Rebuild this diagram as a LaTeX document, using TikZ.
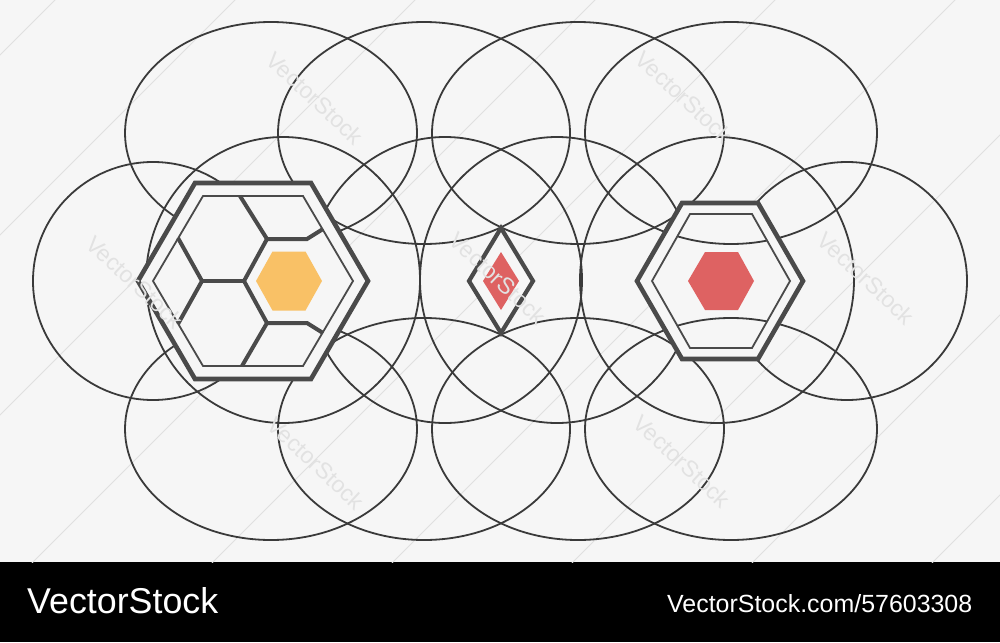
\documentclass[tikz,border=0pt]{standalone}
\usepackage{graphicx}
\usepackage{fontspec}
\setmainfont{Liberation Sans}
\definecolor{bgc}{RGB}{246,246,246}
\definecolor{lnc}{RGB}{58,58,58}
\definecolor{hxc}{RGB}{74,74,74}
\definecolor{orng}{RGB}{249,193,102}
\definecolor{redd}{RGB}{222,98,98}
\definecolor{wmc}{RGB}{224,224,224}
\definecolor{wmtc}{RGB}{226,226,226}
\begin{document}
\begin{tikzpicture}[x=1pt,y=-1pt,
  ell/.style={draw=lnc,line width=1.8pt},
  hexthick/.style={draw=hxc,line width=4.6pt,line join=miter},
  hexthin/.style={draw=hxc,line width=1.8pt,line join=miter},
  comb/.style={draw=hxc,line width=4pt,line join=miter},
  wmline/.style={draw=wmc,line width=0.9pt},
  wmtext/.style={font=\fontsize{23}{23}\selectfont,rotate=-43,inner sep=0pt,text=wmtc}]
\useasboundingbox (0,0) rectangle (1000,642);
% background and bottom bar
\fill[bgc] (0,0) rectangle (1000,562);
\fill[black] (0,562) rectangle (1000,642);
% faint diagonal watermark lines
\begin{scope}
\clip (0,0) rectangle (1000,562);
\foreach \c in {55,235,415,595,775,955,1135,1315,1495}{
  \draw[wmline] (\c-600,600) -- (\c+50,-50);
}
\end{scope}
% ellipses: top and bottom rows
\foreach \cx in {271,424,578,731}{
  \draw[ell] (\cx,133) ellipse [x radius=146, y radius=111];
  \draw[ell] (\cx,429) ellipse [x radius=146, y radius=111];
}
% middle row
\draw[ell] (153,281) ellipse [x radius=120, y radius=119];
\draw[ell] (847,281) ellipse [x radius=120, y radius=119];
\foreach \cx in {283,445,557,717}{
  \draw[ell] (\cx,280) ellipse [x radius=137, y radius=143];
}
% ---------- left hexagon ----------
\coordinate (LO1) at (138,281); \coordinate (LO2) at (195,183);
\coordinate (LO3) at (311,183); \coordinate (LO4) at (368,281);
\coordinate (LO5) at (311,379); \coordinate (LO6) at (195,379);
\fill[bgc] (LO1)--(LO2)--(LO3)--(LO4)--(LO5)--(LO6)--cycle;
\draw[hexthick] (LO1)--(LO2)--(LO3)--(LO4)--(LO5)--(LO6)--cycle;
\draw[hexthin] (153,281)--(203,196)--(303,196)--(353,281)--(303,366)--(203,366)--cycle;
\draw[comb] (240,196)--(267,239)--(307,239)--(323,229);
\draw[comb] (267,239)--(244,281)--(267,323)--(307,323)--(323,333);
\draw[comb] (244,281)--(202,281);
\draw[comb] (178,238)--(202,281)--(178,324);
\draw[comb] (267,323)--(242,366);
\fill[orng] (256,281)--(272.5,251.5)--(305.5,251.5)--(322,281)--(305.5,310.5)--(272.5,310.5)--cycle;
% ---------- diamond ----------
\fill[bgc] (501,228)--(533,281)--(501,333)--(469,281)--cycle;
\draw[hexthick,line width=4.2pt] (501,228)--(533,281)--(501,333)--(469,281)--cycle;
\fill[redd] (501,252)--(519,281)--(501,310)--(483,281)--cycle;
% ---------- right hexagon ----------
\fill[bgc] (637,281)--(682,203)--(758,203)--(803,281)--(758,359)--(682,359)--cycle;
\begin{scope}
\clip (652,281)--(690,214)--(752,214)--(790,281)--(752,348)--(690,348)--cycle;
\draw[ell] (731,133) ellipse [x radius=146, y radius=111];
\draw[ell] (731,429) ellipse [x radius=146, y radius=111];
\end{scope}
\draw[hexthick] (637,281)--(682,203)--(758,203)--(803,281)--(758,359)--(682,359)--cycle;
\draw[hexthin] (652,281)--(690,214)--(752,214)--(790,281)--(752,348)--(690,348)--cycle;
\fill[redd] (688,281)--(705,252)--(738,252)--(754,281)--(738,310)--(705,310)--cycle;
% ---------- watermark text ----------
\foreach \x/\y [count=\i] in {315/98,684/97,135/282,498/278,866/278,316/463,682/461}{
  \node[wmtext] (wm\i) at (\x,\y) {VectorStock};
}
% ---------- bottom bar text ----------
\node[anchor=base west,text=white,inner sep=0pt] (brand) at (27,613) {\resizebox{191pt}{26pt}{VectorStock}};
\node[anchor=base west,text=white,inner sep=0pt] (url) at (667,612) {\resizebox{305pt}{18pt}{VectorStock.com/57603308}};
\end{tikzpicture}
\end{document}
